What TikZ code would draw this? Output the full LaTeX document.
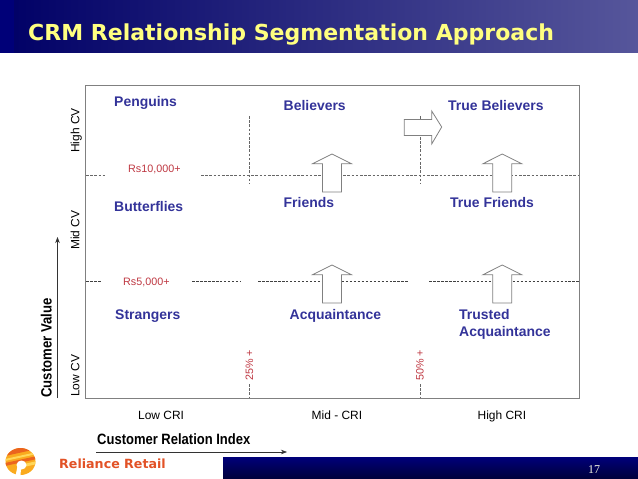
\documentclass[tikz,border=0pt]{standalone}
\usepackage{fontspec}
\setmainfont{Liberation Sans}
\newfontfamily\titlefont{DejaVu Sans}
\newfontfamily\pagefont{Liberation Serif}
\usetikzlibrary{arrows.meta}
\definecolor{segblue}{RGB}{51,51,153}
\definecolor{valred}{RGB}{190,55,65}
\definecolor{linegray}{RGB}{128,128,128}
\definecolor{barnavy}{RGB}{0,0,120}
\definecolor{barlight}{RGB}{86,86,155}
\definecolor{bardark}{RGB}{0,0,60}
\definecolor{titleyellow}{RGB}{255,255,128}
\definecolor{pagecream}{RGB}{245,245,225}
\definecolor{retailred}{RGB}{226,82,38}
\definecolor{logoamber}{RGB}{250,170,30}
\definecolor{logored}{RGB}{235,100,30}
\definecolor{logoyellow}{RGB}{255,215,90}
\tikzset{>=Stealth}
\tikzset{
	seg/.style={
		anchor = base west,
		inner sep = 0,
		text = segblue,
		font = \fontsize{14}{14}\selectfont\bfseries
	},
	val/.style={
		anchor = base west,
		inner sep = 0,
		text = valred,
		font = \fontsize{10.8}{10.8}\selectfont
	},
	ax/.style={
		anchor = base west,
		inner sep = 0,
		font = \fontsize{12}{12}\selectfont
	},
	axhead/.style={
		anchor = base west,
		inner sep = 0,
		font = \fontsize{15}{15}\selectfont\bfseries
	},
	grid/.style={
		linegray!80!black,
		line width = 0.6pt,
		dash pattern = on 2.6pt off 1.6pt
	},
	griddark/.style={
		black!75,
		line width = 0.7pt,
		dash pattern = on 2.6pt off 1.4pt
	},
	block/.style={
		draw = linegray,
		fill = white,
		line width = 0.8pt
	},
}

\begin{document}
\begin{tikzpicture}[x=1bp, y=-1bp]
    \useasboundingbox (0,0) rectangle (638,479);
    % title bar
    \shade[left color=barnavy!85!black, right color=barlight] (0,0) rectangle (638,53);
    \fill[barnavy] (0,0) rectangle (14,53);
    \node[anchor=base west, inner sep=0, text=titleyellow] (title) at (28,40.7)
      {\titlefont\fontsize{22.1}{22.1}\selectfont\bfseries CRM Relationship Segmentation Approach};
    % frame
    \draw[linegray, line width=0.9pt] (85.5,85.5) rectangle (579.5,398);
    % cuts
    \draw[griddark] (86,281.5) -- (101,281.5);
    \draw[griddark] (192,281.5) -- (240,281.5);
    \draw[griddark] (258,281.5) -- (409,281.5);
    \draw[griddark] (429,281.5) -- (579,281.5);
    \draw[grid] (86,175) -- (106,175);
    \draw[grid] (201,175) -- (579,175);
    \foreach \x in {249.5, 420.5}{
      \draw[grid] (\x,116) -- (\x,184);
      \draw[grid] (\x,384) -- (\x,397);
    }
    % arrows
    \foreach \x in {332, 502.3}{
      \foreach \y in {154, 265}{
        \draw[block] (\x,\y) -- (\x+19.5,\y+9.8) -- (\x+9.5,\y+9.8) -- (\x+9.5,\y+38)
          -- (\x-9.5,\y+38) -- (\x-9.5,\y+9.8) -- (\x-19.5,\y+9.8) -- cycle;
      }
    }
    \draw[block] (441.7,127) -- (431.7,144) -- (431.7,135.5) -- (404.3,135.5)
      -- (404.3,119.5) -- (431.7,119.5) -- (431.7,111) -- cycle;
    % segments
    \node[seg] (penguins) at (114,106.7) {Penguins};
    \node[seg] (believers) at (283.5,111) {Believers};
    \node[seg] (truebelievers) at (448,111) {True Believers};
    \node[seg] (butterflies) at (114,212) {Butterflies};
    \node[seg] (friends) at (283.5,207.5) {Friends};
    \node[seg] (truefriends) at (450,207.5) {True Friends};
    \node[seg] (strangers) at (115,319) {Strangers};
    \node[seg] (acq) at (289.5,319) {Acquaintance};
    \node[seg] (trusted) at (459,319) {Trusted};
    \node[seg] (trustedacq) at (459,336) {Acquaintance};
    % thresholds
    \node[val] (ten) at (128,173) {Rs10,000+};
    \node[val] (five) at (123,285) {Rs5,000+};
    \node[val, rotate=90] (pct25) at (253,381) {25\% +};
    \node[val, rotate=90] (pct50) at (423.5,381) {50\% +};
    % axes
    \node[ax, rotate=90] (high) at (79.3,153) {High CV};
    \node[ax, rotate=90] (mid) at (79.3,250) {Mid CV};
    \node[ax, rotate=90] (low) at (79.3,397) {Low CV};
    \node[ax] (lowcri) at (138,419) {Low CRI};
    \node[ax] (midcri) at (311.5,419) {Mid - CRI};
    \node[ax] (highcri) at (477.5,419) {High CRI};
    \node[axhead, rotate=90] (value) at (51.7,398) {\scalebox{0.88}[1]{Customer Value}};
    \node[axhead] (index) at (97,444) {\scalebox{0.87}[1]{Customer Relation Index}};
    \coordinate (v0) at (57.5,398);
    \coordinate (v1) at (57.5,237);
    \coordinate (h0) at (96,452);
    \coordinate (h1) at (287,452);
    \draw[->, line width=0.7pt, black!80] (v0) -- (v1);
    \draw[->, line width=0.7pt, black!80] (h0) -- (h1);
    % footer
    \shade[top color=barnavy, bottom color=bardark] (223,457.5) rectangle (638,478);
    \node[anchor=base west, inner sep=0, text=pagecream] (page) at (588,473.5)
      {\pagefont\fontsize{12}{12}\selectfont 17};
    \node[anchor=base west, inner sep=0, text=retailred] (retail) at (59,468)
      {\titlefont\fontsize{12.7}{12.7}\selectfont\bfseries Reliance Retail};
    % logo
    \begin{scope}
      \clip (20.5,461.5) ellipse (15 and 13.5);
      \fill[logoamber] (5,447) rectangle (37,479);
      \fill[logored] (5,456) -- (37,449) -- (37,446) -- (5,446) -- cycle;
      \fill[logoyellow] (5,459) -- (37,452) -- (37,454) -- (5,461) -- cycle;
      \fill[logored] (5,463) -- (37,456) -- (37,459) -- (5,466) -- cycle;
      \fill[logoyellow] (24,464) -- (37,461) -- (37,464) -- (24,467) -- cycle;
    \end{scope}
    \fill[white] (21.5,465) ellipse (5 and 4.5);
    \fill[white] (15.5,476) -- (17.5,466) -- (21,468) -- (20.5,476) -- cycle;
  \end{tikzpicture}
\end{document}
